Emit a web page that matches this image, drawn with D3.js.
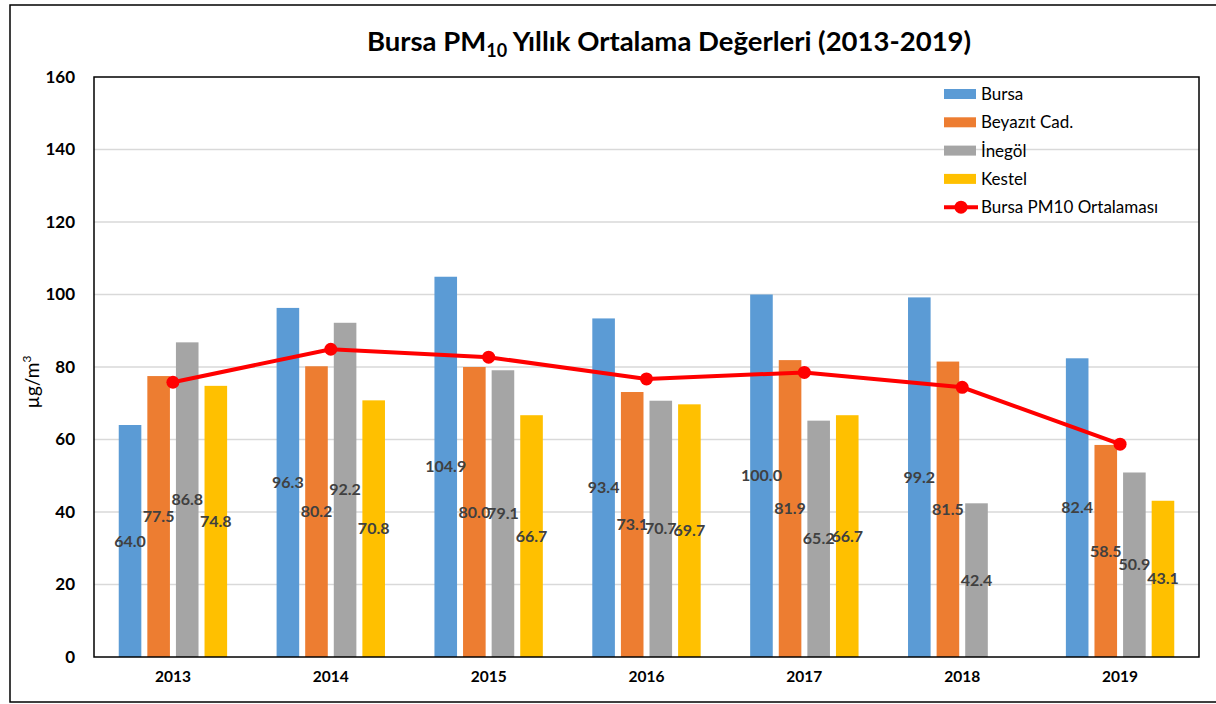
<!DOCTYPE html>
<html>
<head>
<meta charset="utf-8">
<script src="https://cdn.jsdelivr.net/npm/d3@7"></script>
<style>
  html, body { margin: 0; padding: 0; background: #fff; }
  svg { display: block; font-family: Lato, "Open Sans", sans-serif; }
</style>
</head>
<body>
<svg id="chart" width="1216" height="704"></svg>
<script>
// Annual PM10 means (µg/m³) for Bursa monitoring stations
const years = ["2013", "2014", "2015", "2016", "2017", "2018", "2019"];
const seriesNames = ["Bursa", "Beyazıt Cad.", "İnegöl", "Kestel"];
const bursa   = [64.0, 96.3, 104.9, 93.4, 100.0, 99.2, 82.4];
const beyazit = [77.5, 80.2, 80.0, 73.1, 81.9, 81.5, 58.5];
const inegol  = [86.8, 92.2, 79.1, 70.7, 65.2, 42.4, 50.9];
const kestel  = [74.8, 70.8, 66.7, 69.7, 66.7, null, 43.1];
const average = [75.8, 84.9, 82.7, 76.7, 78.5, 74.4, 58.7];
const averageName = "Bursa PM10 Ortalaması";
const yTicks = [0, 20, 40, 60, 80, 100, 120, 140, 160];

const seriesValues = [bursa, beyazit, inegol, kestel];
const colors = ["#5B9BD5", "#ED7D31", "#A5A5A5", "#FFC000"];

const svg = d3.select("#chart");
const plot = { left: 94, right: 1199, top: 77, bottom: 657 };

// outer chart border
svg.append("rect")
  .attr("x", 10).attr("y", 5).attr("width", 1215).attr("height", 697)
  .attr("fill", "none").attr("stroke", "#000").attr("stroke-width", 1.5);

const x = d3.scaleBand().domain(years).range([plot.left, plot.right]).padding(0);
const xs = d3.scaleBand().domain(seriesNames)
  .range([0, x.bandwidth()]).paddingInner(0.21).paddingOuter(0.865);
const y = d3.scaleLinear().domain([0, 160]).range([plot.bottom, plot.top]);

// horizontal gridlines
svg.append("g")
  .selectAll("line")
  .data(yTicks.filter(t => t > 0 && t < 160))
  .join("line")
  .attr("x1", plot.left).attr("x2", plot.right)
  .attr("y1", d => y(d)).attr("y2", d => y(d))
  .attr("stroke", "#d9d9d9").attr("stroke-width", 1.5);

// y axis labels
const yAxis = d3.axisLeft(y).tickValues(yTicks).tickSize(0).tickPadding(19);
const gy = svg.append("g").attr("transform", `translate(${plot.left},0)`).call(yAxis);
gy.select(".domain").remove();
gy.selectAll("text")
  .attr("font-family", "Lato, sans-serif")
  .attr("font-size", 17).attr("font-weight", "bold").attr("fill", "#000");

// x axis labels
const xAxis = d3.axisBottom(x).tickSize(0).tickPadding(14);
const gx = svg.append("g").attr("transform", `translate(0,${plot.bottom})`).call(xAxis);
gx.select(".domain").remove();
gx.selectAll("text")
  .attr("font-family", "Lato, sans-serif")
  .attr("font-size", 15.5).attr("font-weight", "bold").attr("fill", "#000");

// bars
const barData = [];
seriesNames.forEach((name, si) => {
  years.forEach((yr, i) => {
    const v = seriesValues[si][i];
    if (v != null) barData.push({ name, si, yr, v });
  });
});

svg.append("g")
  .selectAll("rect")
  .data(barData)
  .join("rect")
  .attr("x", d => x(d.yr) + xs(d.name))
  .attr("width", xs.bandwidth())
  .attr("y", d => y(d.v))
  .attr("height", d => y(0) - y(d.v))
  .attr("fill", d => colors[d.si]);

// plot frame
svg.append("rect")
  .attr("x", plot.left).attr("y", plot.top)
  .attr("width", plot.right - plot.left).attr("height", plot.bottom - plot.top)
  .attr("fill", "none").attr("stroke", "#000").attr("stroke-width", 1.5);

// average line
const line = d3.line()
  .x((d, i) => x(years[i]) + x.bandwidth() / 2)
  .y(d => y(d));
svg.append("path")
  .datum(average)
  .attr("d", line)
  .attr("fill", "none").attr("stroke", "#FF0000").attr("stroke-width", 4);
svg.append("g")
  .selectAll("circle")
  .data(average)
  .join("circle")
  .attr("cx", (d, i) => x(years[i]) + x.bandwidth() / 2)
  .attr("cy", d => y(d))
  .attr("r", 6.5)
  .attr("fill", "#FF0000");

// value labels centred inside bars
svg.append("g")
  .selectAll("text")
  .data(barData)
  .join("text")
  .attr("x", d => x(d.yr) + xs(d.name) + xs.bandwidth() / 2)
  .attr("y", d => (y(d.v) + y(0)) / 2)
  .attr("dy", "0.35em")
  .attr("text-anchor", "middle")
  .attr("font-size", 16).attr("font-weight", "bold")
  .attr("fill", "#404040")
  .text(d => d.v.toFixed(1));

// y axis title
svg.append("text")
  .attr("transform", "translate(39,382) rotate(-90)")
  .attr("text-anchor", "middle")
  .attr("font-size", 19).attr("fill", "#000")
  .text("µg/m")
  .append("tspan").attr("dy", -8).attr("font-size", 12).text("3");

// title
const title = svg.append("text")
  .attr("x", 669).attr("y", 51)
  .attr("text-anchor", "middle")
  .attr("font-size", 27.5).attr("font-weight", "bold").attr("fill", "#000");
title.append("tspan").text("Bursa PM");
title.append("tspan").attr("dy", 6).attr("font-size", 18).text("10");
title.append("tspan").attr("dy", -6).text(" Yıllık Ortalama Değerleri (2013-2019)");

// legend
const legend = svg.append("g").attr("transform", "translate(944,94)");
const rowH = 28.3;
seriesNames.forEach((name, i) => {
  const g = legend.append("g").attr("transform", `translate(0,${i * rowH})`);
  g.append("rect").attr("x", 0).attr("y", -5).attr("width", 32).attr("height", 10)
    .attr("fill", colors[i]);
  g.append("text").attr("x", 37).attr("y", 0).attr("dy", "0.35em")
    .attr("font-size", 17).attr("fill", "#000").text(name);
});
{
  const g = legend.append("g").attr("transform", `translate(0,${4 * rowH})`);
  g.append("line").attr("x1", 0).attr("x2", 34).attr("y1", 0).attr("y2", 0)
    .attr("stroke", "#FF0000").attr("stroke-width", 4);
  g.append("circle").attr("cx", 17).attr("cy", 0).attr("r", 6.5).attr("fill", "#FF0000");
  g.append("text").attr("x", 37).attr("y", 0).attr("dy", "0.35em")
    .attr("font-size", 17).attr("fill", "#000").text(averageName);
}
</script>
</body>
</html>
